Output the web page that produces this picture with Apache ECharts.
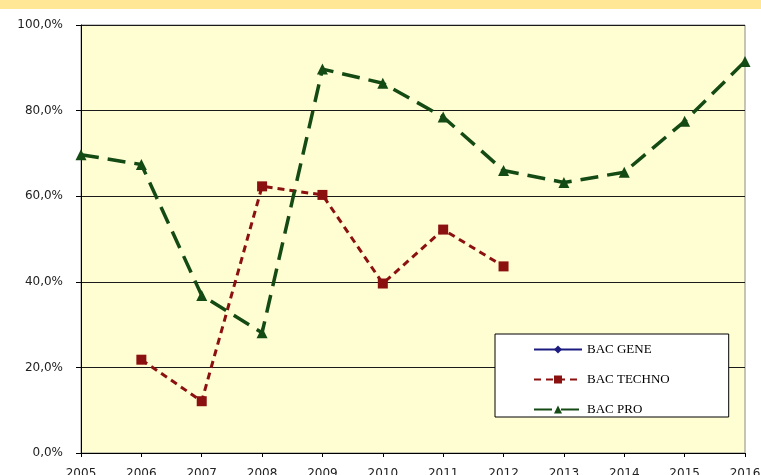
<!DOCTYPE html>
<html>
<head>
<meta charset="utf-8">
<script src="https://cdn.jsdelivr.net/npm/echarts@6/dist/echarts.min.js"></script>
<style>
  html, body { margin: 0; padding: 0; background: #fff; }
  #chart { width: 761px; height: 475px; }
</style>
</head>
<body>
<div id="chart"></div>
<script>
// years on the x axis
const years = ['2005', '2006', '2007', '2008', '2009', '2010', '2011', '2012', '2013', '2014', '2015', '2016'];
// values in %, null = no point
const bacGene = [null, null, null, null, null, null, null, null, null, null, null, null];
const bacTechno = [null, 21.8, 12.1, 62.3, 60.3, 39.6, 52.2, 43.6, null, null, null, null];
const bacPro = [69.7, 67.4, 36.8, 28.1, 89.7, 86.4, 78.5, 66.0, 63.2, 65.6, 77.5, 91.5];

const chart = echarts.init(document.getElementById('chart'), null, { renderer: 'canvas' });

const pct = (v) => v.toFixed(1).replace('.', ',') + '%';

chart.setOption({
  animation: false,
  backgroundColor: '#ffffff',
  graphic: [
    // yellow band at the very top
    { type: 'rect', left: 0, top: 0, shape: { width: 761, height: 9 }, style: { fill: '#FFE796' }, silent: true },
  ],
  grid: {
    left: 81, right: 16, top: 25, bottom: 22,
    outerBoundsMode: 'none',
    containLabel: false,
    show: true,
    backgroundColor: '#FFFDD2',
    borderColor: '#8a8a8a',
    borderWidth: 1,
  },
  legend: {
    orient: 'vertical',
    left: 495,
    top: 334,
    backgroundColor: '#ffffff',
    borderColor: '#000',
    borderWidth: 1,
    borderRadius: 0,
    padding: [9, 59, 1, 38],
    itemGap: 17,
    itemWidth: 48,
    itemHeight: 10,
    textStyle: { fontFamily: 'Liberation Serif', fontSize: 13, color: '#000' },
    data: ['BAC GENE', 'BAC TECHNO', 'BAC PRO'],
  },
  xAxis: {
    type: 'category',
    data: years,
    boundaryGap: false,
    axisLine: { lineStyle: { color: '#000', width: 1 } },
    axisTick: { show: true, length: 4, lineStyle: { color: '#000' } },
    axisLabel: { margin: 15, color: '#222', fontFamily: 'DejaVu Sans', fontSize: 12 },
    splitLine: { show: false },
  },
  yAxis: {
    type: 'value',
    min: 0,
    max: 100,
    interval: 20,
    axisLine: { show: true, lineStyle: { color: '#000', width: 1 } },
    axisTick: { show: true, length: 5, lineStyle: { color: '#000' } },
    axisLabel: { margin: 18, color: '#222', fontFamily: 'DejaVu Sans', fontSize: 12, formatter: pct },
    splitLine: { show: true, lineStyle: { color: '#1a1a1a', width: 1 } },
  },
  series: [
    {
      name: 'BAC GENE',
      type: 'line',
      data: bacGene,
      color: '#1c1c80',
      symbol: 'diamond',
      symbolSize: 8,
      lineStyle: { width: 2.5, color: '#1c1c80' },
    },
    {
      name: 'BAC TECHNO',
      type: 'line',
      data: bacTechno,
      color: '#8b1010',
      symbol: 'rect',
      symbolSize: 10,
      connectNulls: false,
      lineStyle: { width: 3, type: [7, 5], color: '#8b1010' },
      itemStyle: { color: '#8b1010' },
    },
    {
      name: 'BAC PRO',
      type: 'line',
      data: bacPro,
      color: '#144a14',
      symbol: 'triangle',
      symbolSize: 11,
      lineStyle: { width: 3.5, type: [18, 9], color: '#144a14' },
      itemStyle: { color: '#144a14' },
    },
  ],
});
</script>
</body>
</html>
